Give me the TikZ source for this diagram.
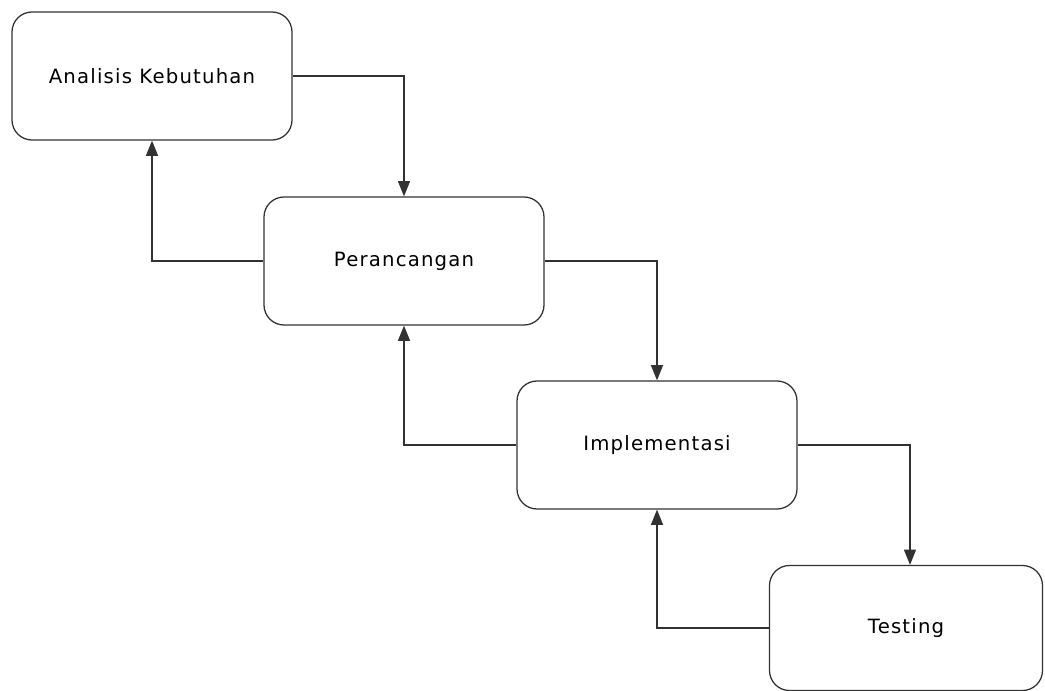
\documentclass[tikz,border=0pt]{standalone}
\usepackage{fontspec}
\setmainfont{DejaVu Sans}[LetterSpace=6]
\usepackage{tikz}
\usetikzlibrary{arrows.meta, positioning}
\definecolor{garis}{RGB}{50, 50, 50}

\begin{document}
\begin{tikzpicture}[>={Triangle[length=0.38cm, width=0.3cm]},
    tahap/.style={draw=garis, line width=0.9pt, rounded corners=0.5cm, minimum width=7cm, minimum height=3.2cm, font=\fontsize{14}{17}\selectfont}]
    \useasboundingbox (0,0) rectangle (26.125,-17.275);
    \node[tahap] (analisis) at (3.8,-1.9) {Analisis Kebutuhan};
    \node[tahap] (rancang) at (10.1,-6.525) {Perancangan};
    \node[tahap] (implement) at (16.425,-11.125) {Implementasi};
    \node[tahap, minimum width=6.825cm, minimum height=3.125cm] (testing) at (22.65,-15.7) {Testing};
    % alur maju
    \draw[->, garis, line width=0.9pt] (analisis.east) -| (rancang.north);
    \draw[->, garis, line width=0.9pt] (rancang.east) -| (implement.north);
    \draw[->, garis, line width=0.9pt] (implement.east) -| ([xshift=0.1cm]testing.north);
    % alur balik
    \draw[->, garis, line width=0.9pt] (rancang.west) -| (analisis.south);
    \draw[->, garis, line width=0.9pt] (implement.west) -| (rancang.south);
    \draw[->, garis, line width=0.9pt] (testing.west) -| (implement.south);
\end{tikzpicture}
\end{document}
